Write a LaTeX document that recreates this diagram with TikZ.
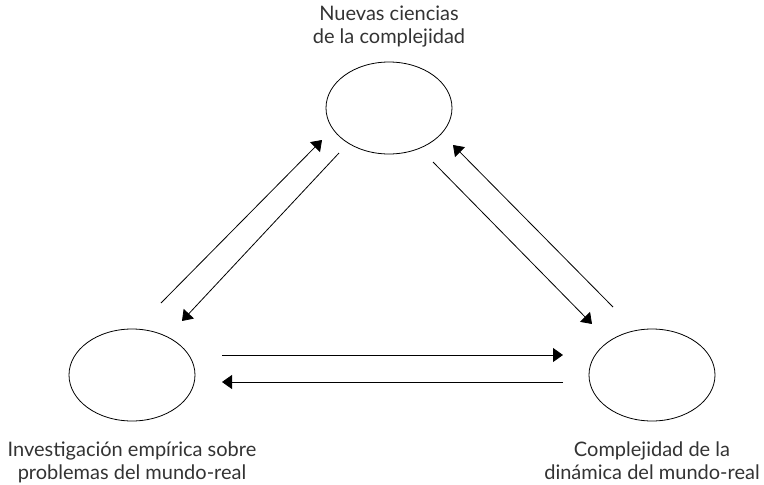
\documentclass[tikz,border=0pt]{standalone}
\usepackage{fontspec}
\setmainfont{Lato}
\usetikzlibrary{shapes.geometric,positioning,arrows.meta}

\tikzset{
  blob/.style={draw, ellipse, line width=0.8pt, minimum width=126pt, minimum height=92pt, inner sep=0pt},
  caption/.style={align=center, font=\fontsize{20}{23}\selectfont, text=black!80, inner sep=0pt},
  flow/.style={line width=0.8pt, -{Triangle[length=10pt, width=14pt]}}
}

\begin{document}
\begin{tikzpicture}[x=1pt, y=-1pt]
\useasboundingbox (0,0) rectangle (764,485);

% the three fields
\node[blob] (cx) at (389,108) {};
\node[blob] (emp) at (132,375) {};
\node[blob] (dyn) at (652,375) {};

% captions
\node[caption, above=14pt of cx] (cxtxt) {Nuevas ciencias\\de la complejidad};
\node[caption, below=20pt of emp] (emptxt) {Investigación empírica sobre\\problemas del mundo-real};
\node[caption, below=20pt of dyn] (dyntxt) {Complejidad de la\\dinámica del mundo-real};

% arrow ends
\coordinate (e1) at (161,303); \coordinate (c1) at (322,140); % emp to cx
\coordinate (c2) at (339,153); \coordinate (e2) at (182,321); % cx to emp
\coordinate (d1) at (613,307); \coordinate (c3) at (453,145); % dyn to cx
\coordinate (c4) at (433,162); \coordinate (d2) at (592,324); % cx to dyn
\coordinate (e3) at (222,355); \coordinate (d3) at (563,355); % emp to dyn
\coordinate (d4) at (563,382); \coordinate (e4) at (222,382); % dyn to emp

\draw[flow] (e1) -- (c1);
\draw[flow] (c2) -- (e2);
\draw[flow] (d1) -- (c3);
\draw[flow] (c4) -- (d2);
\draw[flow] (e3) -- (d3);
\draw[flow] (d4) -- (e4);

\end{tikzpicture}
\end{document}
